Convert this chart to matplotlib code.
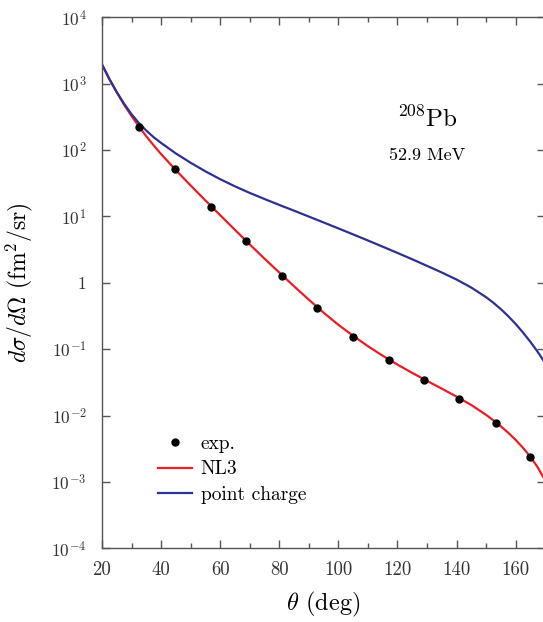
import numpy as np
import matplotlib
matplotlib.use('Agg')
import matplotlib.pyplot as plt

plt.rcParams['font.family'] = 'serif'
plt.rcParams['font.serif'] = ['cmr10', 'DejaVu Serif']
plt.rcParams['mathtext.fontset'] = 'cm'
plt.rcParams['axes.unicode_minus'] = False

# 208Pb elastic electron scattering, 52.9 MeV
theta_exp = [32.6, 44.8, 56.8, 68.7, 80.9, 92.8, 104.9, 117.0, 129.0, 141.0, 153.2, 164.9]
sigma_exp = [226, 51.4, 14.1, 4.19, 1.27, 0.419, 0.152, 0.069, 0.0345, 0.0180, 0.00785, 0.00239]

theta_calc = [20, 22.5, 25, 27.5, 30, 32.5, 35, 37.5, 40, 45, 50, 55, 60, 65, 70, 75,
              80, 85, 90, 95, 100, 105, 110, 115, 120, 125, 130, 135, 140, 145, 150,
              152.5, 155, 157.5, 160, 162.5, 165, 167.5, 170]
sigma_nl3 = [1950, 1169, 741, 482, 325.5, 226, 161, 117.5, 87.1, 49.8, 29.3, 17.4,
             10.45, 6.28, 3.79, 2.31, 1.43, 0.887, 0.557, 0.355, 0.233, 0.159, 0.111,
             0.0797, 0.0586, 0.0439, 0.0333, 0.0254, 0.0193, 0.0144, 0.01024,
             0.00845, 0.00689, 0.00550, 0.00430, 0.00326, 0.00239, 0.00165, 0.00105]
sigma_point = [1950, 1178, 746, 497, 347, 255, 196, 156, 128, 88.9, 64.3, 47.8, 36.4,
               28.4, 22.6, 18.3, 14.9, 12.2, 9.95, 8.11, 6.60, 5.36, 4.34, 3.50, 2.82,
               2.26, 1.80, 1.43, 1.12, 0.847, 0.607, 0.499, 0.401, 0.314, 0.240,
               0.178, 0.129, 0.0906, 0.0617]

ytick_vals = [1e-4, 1e-3, 1e-2, 1e-1, 1, 1e1, 1e2, 1e3, 1e4]
ytick_labels = [r'$10^{-4}$', r'$10^{-3}$', r'$10^{-2}$', r'$10^{-1}$', r'$1$',
                r'$10^{1}$', r'$10^{2}$', r'$10^{3}$', r'$10^{4}$']

fig = plt.figure(figsize=(5.43, 6.22), dpi=100)
ax = fig.add_axes([0.1878, 0.1185, 0.8162, 0.8537])

red = '#ec1c24'
blue = '#2e3192'
l_nl3, = ax.plot(theta_calc, sigma_nl3, color=red, lw=1.6, label='NL3')
l_pt, = ax.plot(theta_calc, sigma_point, color=blue, lw=1.6, label='point charge')
p_exp, = ax.plot(theta_exp, sigma_exp, 'o', color='black', ms=5, label='exp.')

ax.set_yscale('log')
ax.set_xlim(20, 170)
ax.set_ylim(1e-4, 1e4)
ax.set_yticks(ytick_vals)
ax.set_yticklabels(ytick_labels)
ax.yaxis.set_minor_locator(matplotlib.ticker.NullLocator())
ax.set_xticks(np.arange(20, 161, 20))
ax.set_xticks(np.arange(30, 171, 20), minor=True)

ax.tick_params(which='both', direction='in', top=True, right=True,
               color='#555555', labelcolor='#333333')
ax.tick_params(which='major', length=6, width=1)
ax.tick_params(which='minor', length=3.5, width=1)
ax.tick_params(axis='y', pad=11, labelsize=12.5)
ax.tick_params(axis='x', pad=9, labelsize=13.5)
for s in ax.spines.values():
    s.set_color('#555555')
    s.set_linewidth(1)

ax.set_xlabel(r'$\theta$ (deg)', fontsize=17.5, labelpad=8)
ax.set_ylabel(r'$d\sigma/d\mathit{\Omega}$ (fm$^2$/sr)', fontsize=17, labelpad=12)

ax.text(0.734, 0.793, r'$^{208}$Pb', transform=ax.transAxes, fontsize=18,
        ha='center', va='baseline')
ax.text(0.734, 0.731, '52.9 MeV', transform=ax.transAxes, fontsize=13,
        ha='center', va='baseline')

ax.legend(handles=[p_exp, l_nl3, l_pt], loc='upper left',
          bbox_to_anchor=(0.104, 0.231), frameon=False, fontsize=14,
          borderpad=0, handlelength=1.75, handletextpad=0.46, labelspacing=0.37)

fig.savefig('out.png', dpi=100)
